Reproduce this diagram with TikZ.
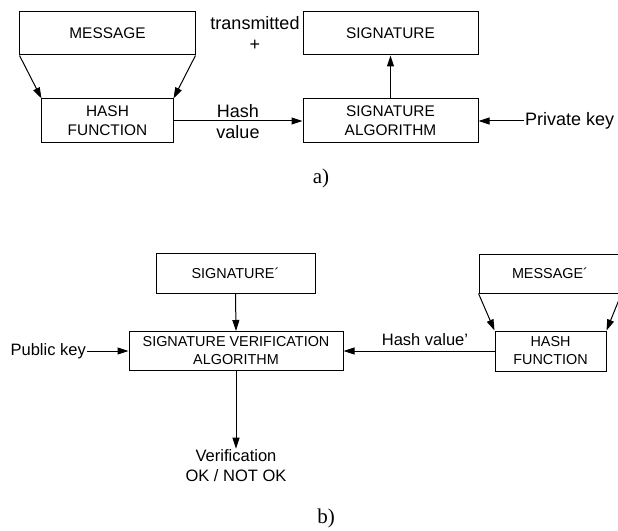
\documentclass[tikz,border=0pt]{standalone}
\usepackage{fontspec}
\setmainfont{Liberation Sans}
\newfontfamily\serifpart{Liberation Serif}
\usetikzlibrary{arrows.meta}
\tikzset{
  box/.style={draw, line width=1bp, inner sep=0pt, align=center},
  topbox/.style={box, font=\fontsize{15.4bp}{19bp}\selectfont},
  botbox/.style={box, font=\fontsize{14.4bp}{18bp}\selectfont},
  toplbl/.style={inner sep=1bp, align=center, font=\fontsize{18bp}{21bp}\selectfont},
  botlbl/.style={inner sep=1bp, align=center, font=\fontsize{16.5bp}{20bp}\selectfont},
  caplbl/.style={inner sep=0pt, font=\serifpart\fontsize{21bp}{24bp}\selectfont},
  arr/.style={line width=1bp, -{Triangle[length=11bp,width=7bp]}}
}
\begin{document}
\begin{tikzpicture}[x=1bp,y=-1bp]
\useasboundingbox (0,0) rectangle (618,531);
\clip (0,0) rectangle (618,531);
% ---- part a
\node[topbox, minimum width=175bp, minimum height=43bp] (msg) at (107.5,33.5) {MESSAGE};
\node[topbox, minimum width=131bp, minimum height=44bp] (hf) at (107.5,121) {HASH\\FUNCTION};
\node[topbox, minimum width=175bp, minimum height=43bp] (sig) at (390.5,33.5) {SIGNATURE};
\node[topbox, minimum width=175bp, minimum height=44bp] (sa) at (390.5,121) {SIGNATURE\\ALGORITHM};
\node[toplbl, anchor=west] (pk) at (524,121) {Private key};
\node[toplbl] (hv) at (238,122) {Hash\\value};
\node[toplbl] (tr) at (255,33) {transmitted\\+};
\node[caplbl] (a) at (321,178) {a)};
\draw[arr] (msg.south west) -- (hf.north west);
\draw[arr] (msg.south east) -- (hf.north east);
\draw[arr] (hf.east) -- (sa.west);
\draw[arr] (sa.north) -- (sig.south);
\draw[arr] (pk.west) -- (sa.east);
% ---- part b
\node[botbox, minimum width=159bp, minimum height=40bp] (sig2) at (235.5,273) {SIGNATURE\textasciiacute};
\node[botbox, minimum width=214bp, minimum height=39bp] (sva) at (236,351) {SIGNATURE VERIFICATION\\ALGORITHM};
\node[botlbl, anchor=east] (pub) at (87,351) {Public key};
\node[botbox, minimum width=142bp, minimum height=39bp] (msg2) at (550,273.5) {MESSAGE\textasciiacute};
\node[botbox, minimum width=111bp, minimum height=40bp] (hf2) at (550.5,351) {HASH\\FUNCTION};
\node[botlbl] (hv2) at (425,340) {Hash value’};
\node[botlbl] (ver) at (236,466) {Verification\\OK / NOT OK};
\node[caplbl] (b) at (326,518) {b)};
\draw[arr] (sig2.south) -- (sva.north);
\draw[arr] (pub.east) -- (sva.west);
\draw[arr] (msg2.south west) -- (hf2.north west);
\draw[arr] (msg2.south east) -- (hf2.north east);
\draw[arr] (hf2.west) -- (sva.east);
\draw[arr] (sva.south) -- (ver.north);
\end{tikzpicture}
\end{document}
